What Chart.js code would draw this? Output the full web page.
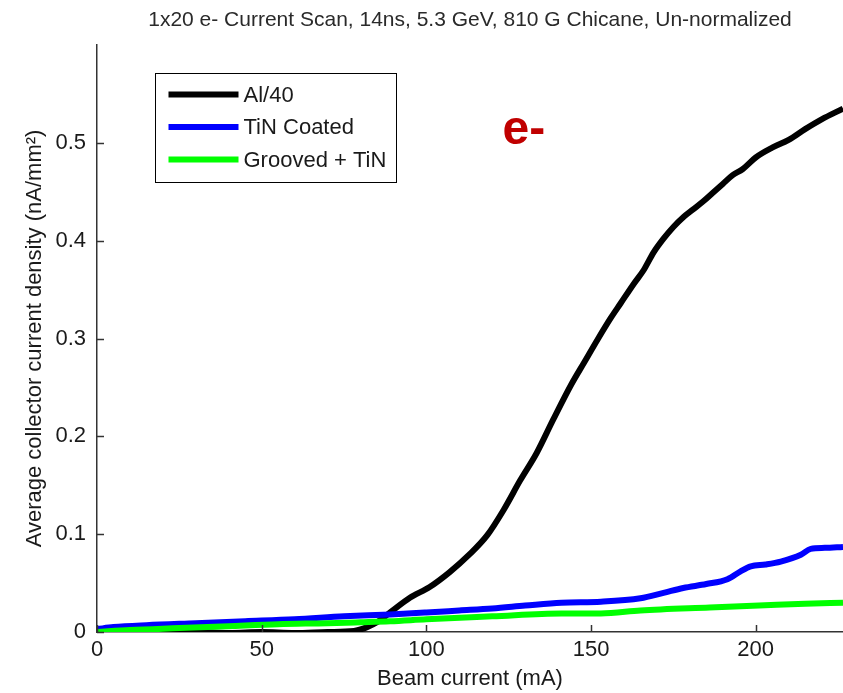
<!DOCTYPE html>
<html>
<head>
<meta charset="utf-8">
<script src="https://cdn.jsdelivr.net/npm/chart.js@4/dist/chart.umd.min.js"></script>
<style>
  html, body { margin: 0; padding: 0; background: #ffffff; }
  canvas { display: block; }
</style>
</head>
<body>
<canvas id="scan" width="843" height="693"></canvas>
<script>
// Beam current (mA) and average collector current density (nA/mm^2)
const alCurrent = [0, 10, 20, 30, 40, 50, 60, 70, 78, 82, 85, 89, 95, 101, 107, 113, 118.5, 123.5, 128.5, 133.5, 138.5, 144, 148, 152, 156, 159, 163, 166, 169, 172, 175, 178, 181, 184, 187, 190, 193, 196, 200, 205, 210, 215, 220, 226.5];
const alDensity = [0.002, 0.0, -0.001, 0.0, -0.001, 0.0, -0.001, 0.0, 0.001, 0.005, 0.010, 0.020, 0.035, 0.046, 0.061, 0.079, 0.099, 0.125, 0.155, 0.183, 0.217, 0.253, 0.276, 0.299, 0.321, 0.336, 0.356, 0.370, 0.388, 0.402, 0.414, 0.424, 0.432, 0.440, 0.449, 0.458, 0.467, 0.473, 0.485, 0.495, 0.503, 0.514, 0.524, 0.535];

const tinCurrent = [0, 5, 15, 30, 45, 60, 75, 89, 100, 110, 120, 130, 141, 153, 165, 172, 178, 185, 191.4, 195.4, 198.5, 203, 207.6, 213.7, 216.7, 221, 226.5];
const tinDensity = [0.003, 0.005, 0.007, 0.009, 0.011, 0.013, 0.016, 0.018, 0.020, 0.022, 0.024, 0.027, 0.030, 0.031, 0.0345, 0.040, 0.045, 0.049, 0.054, 0.062, 0.067, 0.069, 0.072, 0.079, 0.085, 0.086, 0.087];

const grooveCurrent = [0, 10, 25, 40, 55, 70, 80, 89, 100, 120, 141, 153, 165, 186, 201, 215, 226.5];
const grooveDensity = [0.000, 0.002, 0.004, 0.006, 0.008, 0.009, 0.010, 0.011, 0.013, 0.016, 0.019, 0.019, 0.022, 0.025, 0.027, 0.029, 0.030];

const seriesNames = ['Al/40', 'TiN Coated', 'Grooved + TiN'];
const seriesColors = ['#000000', '#0000ff', '#00ff00'];

const xTickValues = [0, 50, 100, 150, 200];
const yTickValues = [0, 0.1, 0.2, 0.3, 0.4, 0.5];

const chartTitle = '1x20 e- Current Scan, 14ns, 5.3 GeV, 810 G Chicane, Un-normalized';
const xTitle = 'Beam current (mA)';
const yTitle = 'Average collector current density (nA/mm\u00B2)';
const particleLabel = 'e-';

const FONT = '"Liberation Sans", Arial, Helvetica, sans-serif';
const TEXT = '#1a1a1a';

function toPoints(xs, ys) {
  return xs.map((x, i) => ({ x: x, y: ys[i] }));
}

// MATLAB-style tick marks pointing into the plot
const innerTicks = {
  id: 'innerTicks',
  afterDraw(chart) {
    const { ctx, chartArea, scales } = chart;
    ctx.save();
    ctx.strokeStyle = '#333333';
    ctx.lineWidth = 1.5;
    const len = 7;
    scales.x.ticks.forEach(t => {
      const px = Math.round(scales.x.getPixelForValue(t.value)) + 0.5;
      ctx.beginPath();
      ctx.moveTo(px, chartArea.bottom);
      ctx.lineTo(px, chartArea.bottom - len);
      ctx.stroke();
    });
    scales.y.ticks.forEach(t => {
      const py = Math.round(scales.y.getPixelForValue(t.value)) + 0.5;
      ctx.beginPath();
      ctx.moveTo(chartArea.left, py);
      ctx.lineTo(chartArea.left + len, py);
      ctx.stroke();
    });
    ctx.restore();
  }
};

// Boxed legend inside the upper-left of the axes
const boxedLegend = {
  id: 'boxedLegend',
  afterDraw(chart) {
    const { ctx, chartArea } = chart;
    const x0 = chartArea.left + 58.5;
    const y0 = chartArea.top + 28.5;
    const w = 241, h = 109;
    ctx.save();
    ctx.fillStyle = '#ffffff';
    ctx.fillRect(x0, y0, w, h);
    ctx.strokeStyle = '#000000';
    ctx.lineWidth = 1;
    ctx.strokeRect(x0, y0, w, h);
    ctx.font = '22px ' + FONT;
    ctx.textBaseline = 'middle';
    ctx.textAlign = 'left';
    chart.data.datasets.forEach((ds, i) => {
      const cy = y0 + 21 + i * 32.5;
      ctx.strokeStyle = ds.borderColor;
      ctx.lineWidth = 6;
      ctx.beginPath();
      ctx.moveTo(x0 + 13, cy);
      ctx.lineTo(x0 + 83, cy);
      ctx.stroke();
      ctx.fillStyle = TEXT;
      ctx.fillText(ds.label, x0 + 88, cy + 1);
    });
    ctx.restore();
  }
};

// Particle species label placed in data coordinates
const speciesLabel = {
  id: 'speciesLabel',
  afterDraw(chart) {
    const { ctx, scales } = chart;
    const px = scales.x.getPixelForValue(123.1);
    const py = scales.y.getPixelForValue(0.499);
    ctx.save();
    ctx.font = 'bold 48px ' + FONT;
    ctx.fillStyle = '#c00000';
    ctx.textAlign = 'left';
    ctx.textBaseline = 'alphabetic';
    ctx.fillText(particleLabel, px, py);
    ctx.restore();
  }
};

Chart.defaults.font.family = FONT;
Chart.defaults.font.size = 22;
Chart.defaults.color = TEXT;

const lineStyle = {
  showLine: true,
  pointRadius: 0,
  pointHoverRadius: 0,
  borderWidth: 6,
  fill: false,
  cubicInterpolationMode: 'monotone'
};

new Chart(document.getElementById('scan'), {
  type: 'scatter',
  data: {
    datasets: [
      Object.assign({ label: seriesNames[0], data: toPoints(alCurrent, alDensity), borderColor: seriesColors[0], backgroundColor: seriesColors[0], order: 2 }, lineStyle),
      Object.assign({ label: seriesNames[1], data: toPoints(tinCurrent, tinDensity), borderColor: seriesColors[1], backgroundColor: seriesColors[1], order: 1 }, lineStyle),
      Object.assign({ label: seriesNames[2], data: toPoints(grooveCurrent, grooveDensity), borderColor: seriesColors[2], backgroundColor: seriesColors[2], order: 0 }, lineStyle)
    ]
  },
  options: {
    responsive: false,
    animation: false,
    events: [],
    layout: { padding: 0 },
    plugins: {
      legend: { display: false },
      tooltip: { enabled: false },
      title: {
        display: true,
        text: chartTitle,
        fullSize: false,
        color: '#2a2a2a',
        font: { size: 21, weight: 'normal' },
        padding: { top: 8, bottom: 11.8 }
      }
    },
    scales: {
      x: {
        type: 'linear',
        position: 'bottom',
        min: 0,
        max: 226.5,
        afterBuildTicks: s => { s.ticks = xTickValues.map(v => ({ value: v })); },
        afterFit: s => { s.height = 61; },
        ticks: { padding: 5, maxRotation: 0, autoSkip: false, callback: v => String(v) },
        grid: { display: false, drawTicks: false },
        border: { display: true, color: '#333333', width: 1.5 },
        title: { display: true, text: xTitle, padding: { top: 0, bottom: 1 } }
      },
      y: {
        type: 'linear',
        position: 'left',
        min: 0,
        max: 0.6,
        afterBuildTicks: s => { s.ticks = yTickValues.map(v => ({ value: v })); },
        afterFit: s => { s.width = 97; },
        ticks: { padding: 11, autoSkip: false, callback: v => (v === 0 ? '0' : v.toFixed(1)) },
        grid: { display: false, drawTicks: false },
        border: { display: true, color: '#333333', width: 1.5 },
        title: { display: true, text: yTitle, padding: { top: 22, bottom: 0 } }
      }
    }
  },
  plugins: [innerTicks, boxedLegend, speciesLabel]
});
</script>
</body>
</html>
